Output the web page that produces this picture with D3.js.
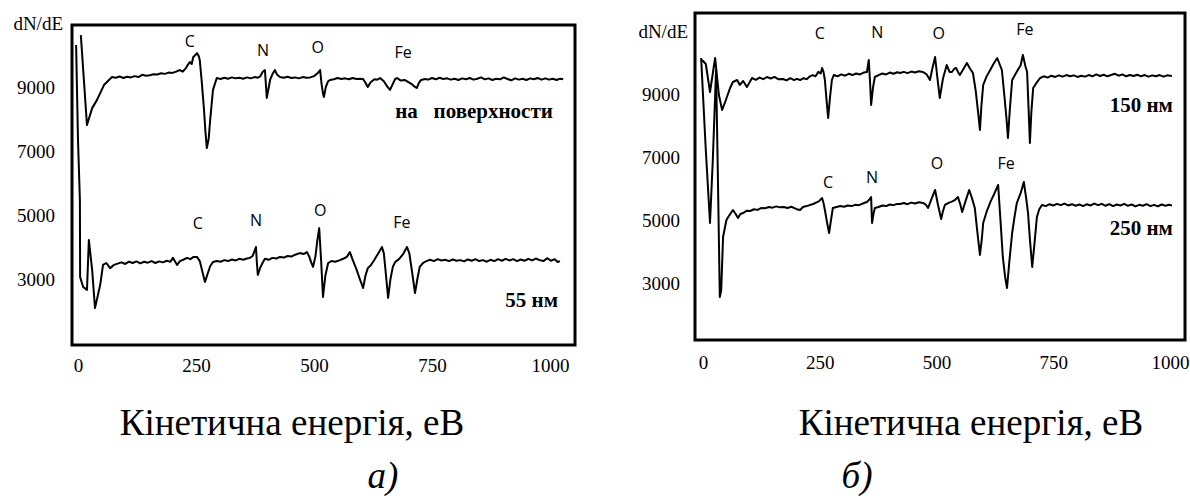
<!DOCTYPE html>
<html><head><meta charset="utf-8">
<script src="https://cdn.jsdelivr.net/npm/d3@7"></script>
<style>body{margin:0;background:#fff}</style>
</head><body><svg id="c" width="1190" height="504"></svg>
<script>
// ---------- DATA ----------
const energyTicks = [0, 250, 500, 750, 1000];
const intensityTicks = [3000, 5000, 7000, 9000];
const axisTitle = "Кінетична енергія, еВ";
const yTitle = "dN/dE";

// panel a: surface
const surfaceSeries = [[6,10620],[19,7810],[30,8340],[40,8590],[55,9060],[72,9310],[80,9290],[88,9330],[96,9280],[104,9320],[112,9300],[120,9340],[128,9310],[136,9380],[144,9350],[152,9370],[160,9400],[168,9390],[176,9430],[184,9410],[192,9450],[200,9440],[208,9480],[216,9530],[222,9480],[229,9600],[233,9700],[237,9780],[241,9720],[244,9930],[248,9990],[252,10060],[256,9960],[258,9840],[262,9200],[267,8280],[270,7600],[273,7090],[277,7400],[280,7970],[286,8910],[294,9280],[302,9250],[310,9290],[318,9260],[326,9300],[334,9270],[342,9290],[350,9260],[358,9300],[366,9270],[374,9310],[381,9290],[386,9330],[391,9470],[396,9530],[398,9100],[400,8660],[403,8900],[407,9220],[412,9400],[417,9530],[422,9380],[428,9310],[436,9290],[444,9320],[452,9280],[460,9300],[468,9270],[476,9310],[484,9290],[492,9300],[500,9340],[507,9420],[513,9530],[516,9100],[519,8800],[521,8690],[525,9000],[530,9180],[534,9220],[542,9240],[550,9280],[558,9250],[566,9270],[574,9240],[582,9280],[590,9250],[598,9260],[604,9250],[609,9130],[614,9000],[620,9150],[628,9240],[634,9230],[640,9280],[648,9180],[655,9020],[661,8910],[667,9100],[672,9250],[676,9280],[684,9200],[692,9220],[700,9150],[708,9080],[714,9000],[718,8970],[722,9120],[727,9220],[735,9250],[742,9230],[750,9280],[758,9240],[766,9290],[774,9250],[782,9270],[790,9230],[798,9260],[806,9220],[814,9270],[822,9240],[830,9280],[838,9230],[846,9260],[854,9300],[862,9240],[870,9270],[878,9220],[886,9260],[894,9240],[902,9300],[910,9250],[918,9210],[926,9270],[934,9230],[942,9260],[950,9220],[958,9270],[966,9240],[974,9280],[982,9230],[990,9270],[998,9230],[1006,9260],[1014,9220],[1021,9260],[1028,9240]];

// panel a: 55 nm
const nm55Series = [[-4,10310],[0,7340],[4,5470],[4.5,3060],[11,2750],[19,2660],[23,4220],[30,3280],[36,2090],[47,2810],[53,3440],[60,3500],[68,3340],[76,3440],[84,3480],[92,3520],[100,3470],[108,3540],[116,3500],[124,3550],[132,3490],[140,3540],[148,3510],[156,3560],[164,3500],[172,3550],[180,3520],[188,3570],[196,3540],[201,3660],[205,3560],[210,3440],[216,3560],[224,3610],[231,3660],[238,3620],[245,3690],[252,3690],[258,3560],[264,3200],[269,2910],[275,3180],[280,3400],[286,3530],[294,3560],[302,3540],[310,3590],[318,3560],[326,3610],[334,3580],[342,3630],[350,3600],[358,3640],[364,3660],[370,3720],[377,4000],[379,3500],[381,3130],[386,3350],[391,3500],[396,3630],[404,3600],[412,3660],[420,3640],[428,3690],[436,3670],[444,3720],[452,3700],[460,3760],[470,3810],[478,3780],[485,3840],[490,3700],[494,3520],[498,3380],[503,3700],[507,4200],[511,4590],[515,3600],[519,2440],[524,3100],[530,3500],[537,3560],[545,3540],[555,3590],[563,3640],[570,3700],[576,3840],[582,3600],[590,3300],[597,3000],[604,2720],[609,3100],[614,3340],[620,3420],[628,3600],[636,3800],[644,4000],[648,3800],[652,3200],[657,2410],[662,3000],[667,3380],[672,3530],[680,3620],[688,3760],[697,4000],[702,3800],[708,3200],[714,2560],[719,3000],[724,3380],[731,3500],[738,3560],[746,3600],[754,3560],[762,3620],[770,3580],[778,3600],[786,3560],[794,3610],[802,3570],[810,3590],[818,3550],[826,3610],[834,3570],[842,3620],[850,3560],[858,3590],[866,3540],[874,3600],[882,3560],[890,3620],[898,3570],[906,3630],[914,3580],[922,3620],[930,3560],[938,3610],[946,3570],[954,3630],[962,3580],[970,3640],[978,3590],[986,3560],[994,3650],[1002,3570],[1010,3620],[1016,3530],[1021,3560]];

// panel b: 150 nm
const nm150Series = [[-2,10077],[6,9950],[15,9063],[26,10140],[34,8968],[41,8493],[49,8810],[58,9190],[64,9380],[73,9443],[79,9285],[86,9412],[94,9222],[105,9507],[113,9450],[121,9520],[129,9470],[137,9538],[145,9490],[153,9540],[161,9470],[171,9475],[179,9430],[187,9500],[195,9440],[201,9480],[208,9443],[215,9500],[222,9470],[229,9560],[235,9600],[241,9560],[247,9700],[252,9650],[255,9823],[258,9700],[261,9443],[264,8900],[268,8240],[272,8900],[276,9443],[280,9600],[288,9560],[296,9620],[304,9580],[312,9640],[320,9600],[328,9650],[336,9620],[344,9680],[351,9697],[355,10077],[358,9300],[360,8652],[364,9200],[368,9538],[376,9600],[384,9650],[392,9620],[400,9680],[408,9640],[416,9690],[422,9665],[430,9700],[438,9660],[446,9710],[454,9680],[462,9720],[471,9697],[479,9620],[486,9443],[491,9800],[497,10172],[502,9500],[507,8873],[514,9500],[522,9918],[528,9700],[533,9697],[538,9800],[542,9823],[546,9700],[550,9600],[558,9800],[565,9982],[572,9800],[578,9665],[584,9100],[590,8300],[593,7860],[596,8600],[600,9285],[607,9550],[615,9760],[622,9950],[630,10140],[635,9950],[640,9760],[645,9000],[650,8200],[653,7606],[657,8500],[662,9443],[668,9600],[674,9760],[680,9900],[685,10235],[690,9900],[694,9697],[697,8600],[700,7448],[703,8400],[707,9190],[714,9350],[722,9507],[730,9560],[738,9520],[746,9580],[754,9540],[762,9590],[770,9550],[778,9600],[786,9560],[794,9590],[802,9540],[810,9580],[818,9550],[826,9600],[834,9560],[842,9620],[850,9570],[858,9610],[866,9560],[874,9600],[882,9640],[890,9580],[898,9620],[906,9560],[914,9600],[922,9570],[930,9610],[938,9560],[946,9600],[954,9550],[962,9590],[970,9560],[978,9600],[986,9550],[994,9590],[1004,9570]];

// panel b: 250 nm
const nm250Series = [[-4,10140],[6,7226],[15,4915],[21,6910],[28,9760],[32,6276],[36,2571],[39,2793],[43,4471],[50,5000],[54,5105],[64,5326],[70,5200],[75,5073],[80,5200],[86,5231],[93,5300],[101,5295],[109,5350],[117,5330],[125,5390],[133,5380],[141,5420],[149,5400],[157,5440],[165,5410],[173,5420],[181,5390],[189,5430],[197,5380],[203,5340],[208,5326],[214,5421],[222,5450],[230,5490],[236,5516],[242,5560],[248,5600],[255,5706],[258,5550],[261,5326],[266,4900],[270,4598],[274,5000],[278,5390],[286,5420],[294,5450],[302,5430],[310,5470],[318,5450],[326,5490],[334,5480],[342,5530],[351,5580],[356,5650],[360,5738],[362,4915],[365,5200],[368,5390],[376,5420],[384,5470],[392,5450],[400,5500],[408,5480],[416,5520],[422,5516],[430,5550],[438,5510],[446,5560],[454,5530],[462,5570],[471,5548],[477,5500],[482,5390],[490,5700],[497,5960],[503,5500],[510,5041],[514,5300],[518,5485],[526,5550],[534,5600],[540,5650],[546,5738],[551,5500],[555,5263],[562,5600],[570,5960],[576,5700],[582,5390],[587,4700],[593,3901],[597,4400],[600,4915],[608,5300],[616,5600],[624,5850],[632,6118],[637,5000],[642,3838],[647,3200],[651,2856],[656,3700],[662,4598],[667,5100],[672,5548],[680,5850],[687,6213],[692,5700],[696,5231],[700,4400],[705,3521],[710,4300],[715,5105],[720,5350],[726,5485],[734,5450],[742,5510],[750,5470],[758,5520],[766,5480],[774,5530],[782,5470],[790,5510],[798,5460],[806,5500],[814,5450],[822,5510],[830,5470],[838,5530],[846,5480],[854,5520],[862,5460],[870,5510],[878,5450],[886,5500],[894,5470],[902,5520],[910,5460],[918,5500],[926,5440],[934,5490],[942,5460],[950,5510],[958,5450],[966,5490],[974,5440],[982,5500],[990,5460],[998,5490],[1004,5470]];

// peak annotations (element, energy, level)
const peaksSurface = [["C",237,10437],["N",392,10156],["O",508,10250],["Fe",689,10094]];
const peaks55 = [["C",254,4750],["N",377,4844],["O",513,5156],["Fe",686,4781]];
const peaks150 = [["C",250,10932],["N",373,10963],["O",505,10932],["Fe",689,11059]];
const peaks250 = [["C",268,6213],["N",362,6371],["O",501,6815],["Fe",649,6815]];

// series names (name, energy of right end, level of baseline)
const namesA = [["на   поверхности",1006,8031],["55 нм",1017,2125]];
const namesB = [["150 нм",1006,8430],["250 нм",1006,4535]];

// ---------- DRAW ----------
const svg = d3.select("#c");
const SERIF = "'Liberation Serif','Times New Roman',serif";
const SANS = "'Open Sans','Liberation Sans',sans-serif";

function panel(cfg) {
  const x = d3.scaleLinear().domain([0, 1000]).range(cfg.xr);
  const y = d3.scaleLinear().domain(cfg.yd).range([cfg.bottom, cfg.top]);
  const g = svg.append("g");
  const clipId = "clip" + cfg.id;
  g.append("clipPath").attr("id", clipId).append("rect")
    .attr("x", cfg.left).attr("y", cfg.top)
    .attr("width", cfg.right - cfg.left).attr("height", cfg.bottom - cfg.top);

  // x tick labels
  g.append("g").attr("transform", `translate(0,${cfg.xLabY})`)
    .call(d3.axisBottom(x).tickValues(energyTicks).tickSize(0).tickPadding(0).tickFormat(d3.format("d")))
    .call(s => s.select(".domain").remove())
    .selectAll("text").attr("font-family", SERIF).attr("font-size", 19).attr("fill", "#000");

  // y tick labels
  g.append("g").attr("transform", `translate(${cfg.yLabX},0)`)
    .call(d3.axisLeft(y).tickValues(intensityTicks).tickSize(0).tickPadding(0).tickFormat(d3.format("d")))
    .call(s => s.select(".domain").remove())
    .selectAll("text").attr("font-family", SERIF).attr("font-size", 19).attr("fill", "#000");

  g.append("text").attr("x", cfg.yTitleX).attr("y", cfg.yTitleY).attr("text-anchor", "end")
    .attr("font-family", SERIF).attr("font-size", 19).text(yTitle);

  const line = d3.line().x(d => x(d[0])).y(d => y(d[1]));
  const lg = g.append("g").attr("clip-path", `url(#${clipId})`);
  cfg.series.forEach(s => {
    lg.append("path").datum(s).attr("d", line).attr("fill", "none")
      .attr("stroke", "#000").attr("stroke-width", 2).attr("stroke-linejoin", "round");
  });

  cfg.peaks.forEach(set => {
    g.selectAll(null).data(set).enter().append("text")
      .attr("x", d => x(d[1])).attr("y", d => y(d[2]))
      .attr("text-anchor", "middle").attr("dominant-baseline", "central")
      .attr("font-family", SANS).attr("font-size", 16).text(d => d[0]);
  });

  g.selectAll(null).data(cfg.names).enter().append("text")
    .attr("x", d => x(d[1])).attr("y", d => y(d[2]))
    .attr("text-anchor", "end").attr("font-family", SERIF).attr("font-weight", "bold")
    .attr("font-size", 21).attr("xml:space", "preserve").style("white-space", "pre").text(d => d[0]);

  g.append("rect").attr("x", cfg.left).attr("y", cfg.top)
    .attr("width", cfg.right - cfg.left).attr("height", cfg.bottom - cfg.top)
    .attr("fill", "none").attr("stroke", "#000").attr("stroke-width", 3);

  g.append("text").attr("x", cfg.titleX).attr("y", 435).attr("text-anchor", "middle")
    .attr("font-family", SERIF).attr("font-size", 37).text(axisTitle);
  g.append("text").attr("x", cfg.letterX).attr("y", 488).attr("text-anchor", "middle")
    .attr("font-family", SERIF).attr("font-style", "italic").attr("font-size", 37).text(cfg.letter);
}

panel({id: "a", left: 72, right: 575, top: 25, bottom: 345, xr: [78, 550], yd: [937.5, 10937.5],
  xLabY: 358.5, yLabX: 55, yTitleX: 63, yTitleY: 30,
  series: [surfaceSeries, nm55Series], peaks: [peaksSurface, peaks55], names: namesA,
  titleX: 292, letterX: 383, letter: "а)"});
panel({id: "b", left: 695, right: 1185, top: 13, bottom: 340, xr: [703, 1170], yd: [1209, 11565],
  xLabY: 355.5, yLabX: 680, yTitleX: 688, yTitleY: 38,
  series: [nm150Series, nm250Series], peaks: [peaks150, peaks250], names: namesB,
  titleX: 971, letterX: 857, letter: "б)"});
</script>
</body></html>
